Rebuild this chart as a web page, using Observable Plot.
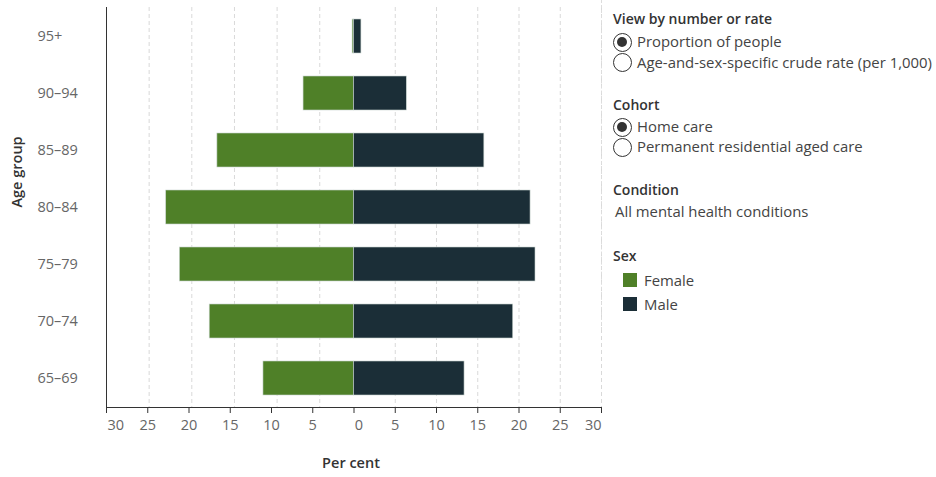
<!DOCTYPE html>
<html>
<head>
<meta charset="utf-8">
<script src="https://cdn.jsdelivr.net/npm/d3@7"></script>
<script src="https://cdn.jsdelivr.net/npm/@observablehq/plot@0.6"></script>
<style>
  html, body { margin: 0; padding: 0; background: #fff; }
  #wrap { position: relative; width: 936px; height: 477px; font-family: "Open Sans", sans-serif; }
  #chart { position: absolute; left: 0; top: 0; }
  #legend { position: absolute; left: 613px; top: 0; width: 323px; color: #444; font-size: 14.9px; }
  #legend .h { position: absolute; left: 0; font-weight: 600; color: #333; white-space: nowrap; font-size: 14px; }
  #legend .t { position: absolute; white-space: nowrap; }
  #legend .radio { position: absolute; width: 19px; height: 19px; border: 1.3px solid #333; border-radius: 50%; box-sizing: border-box; background: #fff; }
  #legend .radio.on::after { content: ""; position: absolute; left: 3px; top: 3px; width: 10.4px; height: 10.4px; border-radius: 50%; background: #333; }
  #legend .sw { position: absolute; width: 14px; height: 14px; }
  #vline { position: absolute; left: 601px; top: 0; height: 330px; border-left: 1px dashed #ddd; }
</style>
</head>
<body>
<div id="wrap">
  <div id="chart"></div>
  <div id="vline"></div>
  <div id="legend"></div>
</div>
<script>
// ---- data ----
const ageGroups = ["95+", "90–94", "85–89", "80–84", "75–79", "70–74", "65–69"];
const femaleValues = [0.2, 6.9, 17.0, 23.0, 21.4, 17.9, 11.6];
const maleValues = [0.9, 6.4, 15.8, 21.4, 22.0, 19.3, 13.4];
const tickValues = [-30, -25, -20, -15, -10, -5, 0, 5, 10, 15, 20, 25, 30];
const sexes = ["Female", "Male"];
const sexColors = ["#4f8028", "#1b2e37"];

const rows = [];
ageGroups.forEach((a, i) => {
  rows.push({age: a, sex: "Female", x1: -femaleValues[i], x2: 0});
  rows.push({age: a, sex: "Male", x1: 0, x2: maleValues[i]});
});

// The original's female panel is slightly offset from the male panel:
// a piecewise scale transform reproduces that layout.
const knee = -5, kneeOut = -4.15;
const pw = v => v >= 0 ? v : v >= knee ? v * (kneeOut / knee) : kneeOut + (v - knee) * ((-30 - kneeOut) / (-30 - knee));

const fmt = d => String(Math.abs(d));
const gridTicks = tickValues.filter(t => t !== 0 && t !== -30);
const innerTicks = tickValues.filter(t => t !== 0 && Math.abs(t) !== 30);
const lbl = {tickSize: 0, tickPadding: 12, tickFormat: fmt, fill: "#666", fontSize: 14.5};

const plot = Plot.plot({
  width: 605,
  height: 477,
  marginTop: 7,
  marginBottom: 70,
  marginLeft: 106,
  marginRight: 4,
  style: {fontFamily: "Open Sans, sans-serif", fontSize: "14px", color: "#555", background: "#fff"},
  x: {domain: [-30, 30], range: [106, 601], transform: pw, label: null},
  y: {domain: ageGroups, paddingInner: 0.4, paddingOuter: 0.2, label: null},
  color: {domain: sexes, range: sexColors},
  marks: [
    Plot.ruleX(gridTicks, {x: d => d, stroke: "#d9d9d9", strokeDasharray: "4,3", strokeWidth: 1}),
    Plot.barX(rows, {y: "age", x1: "x1", x2: "x2", fill: "sex", stroke: "#c9d4cf", strokeWidth: 0.6}),
    Plot.frame({anchor: "bottom", stroke: "#333", strokeWidth: 1}),
    Plot.frame({anchor: "left", stroke: "#333", strokeWidth: 1}),
    // x axis ticks
    Plot.axisX({ticks: tickValues, tickSize: 6, tickFormat: () => "", stroke: "#333"}),
    Plot.axisX({ticks: innerTicks, ...lbl}),
    Plot.axisX({ticks: [0], ...lbl, dx: 5}),
    Plot.axisX({ticks: [-30], ...lbl, textAnchor: "start", dx: 1}),
    Plot.axisX({ticks: [30], ...lbl, textAnchor: "end", dx: 0}),
    // y axis labels
    Plot.axisY({tickSize: 0, textAnchor: "start", dx: -60, fill: "#666", fontSize: 14.5, label: null}),
    // axis titles
    Plot.text(["Per cent"], {frameAnchor: "bottom", x: () => 0, dy: 60, dx: -3, fill: "#333", fontWeight: 600, fontSize: 14.5}),
    Plot.text(["Age group"], {frameAnchor: "left", dx: -89, y: () => "80–84", rotate: -90, fill: "#333", fontWeight: 600, fontSize: 14.5})
  ]
});
document.getElementById("chart").appendChild(plot);

// ---- legend (HTML, right side) ----
const lg = document.getElementById("legend");
function add(cls, text, left, cy) {
  const el = document.createElement("div");
  el.className = cls;
  el.textContent = text;
  el.style.left = left + "px";
  el.style.top = (cy - 10) + "px";
  el.style.lineHeight = "20px";
  lg.appendChild(el);
  return el;
}
function radio(on, cx, cy) {
  const el = document.createElement("div");
  el.className = "radio" + (on ? " on" : "");
  el.style.left = (cx - 9.5) + "px";
  el.style.top = (cy - 9.5) + "px";
  lg.appendChild(el);
}
add("h", "View by number or rate", 0, 19);
radio(true, 9, 42);
add("t", "Proportion of people", 24, 41);
radio(false, 9, 62);
add("t", "Age-and-sex-specific crude rate (per 1,000)", 24, 62);
add("h", "Cohort", 0, 105);
radio(true, 9, 127);
add("t", "Home care", 24, 126);
radio(false, 9, 147);
add("t", "Permanent residential aged care", 24, 146);
add("h", "Condition", 0, 190);
add("t", "All mental health conditions", 2, 211);
add("h", "Sex", 0, 256);
sexes.forEach((s, i) => {
  const cy = 280 + i * 24;
  const sw = document.createElement("div");
  sw.className = "sw";
  sw.style.left = "10px";
  sw.style.top = (cy - 7) + "px";
  sw.style.background = sexColors[i];
  lg.appendChild(sw);
  add("t", s, 31, cy);
});
</script>
</body>
</html>
